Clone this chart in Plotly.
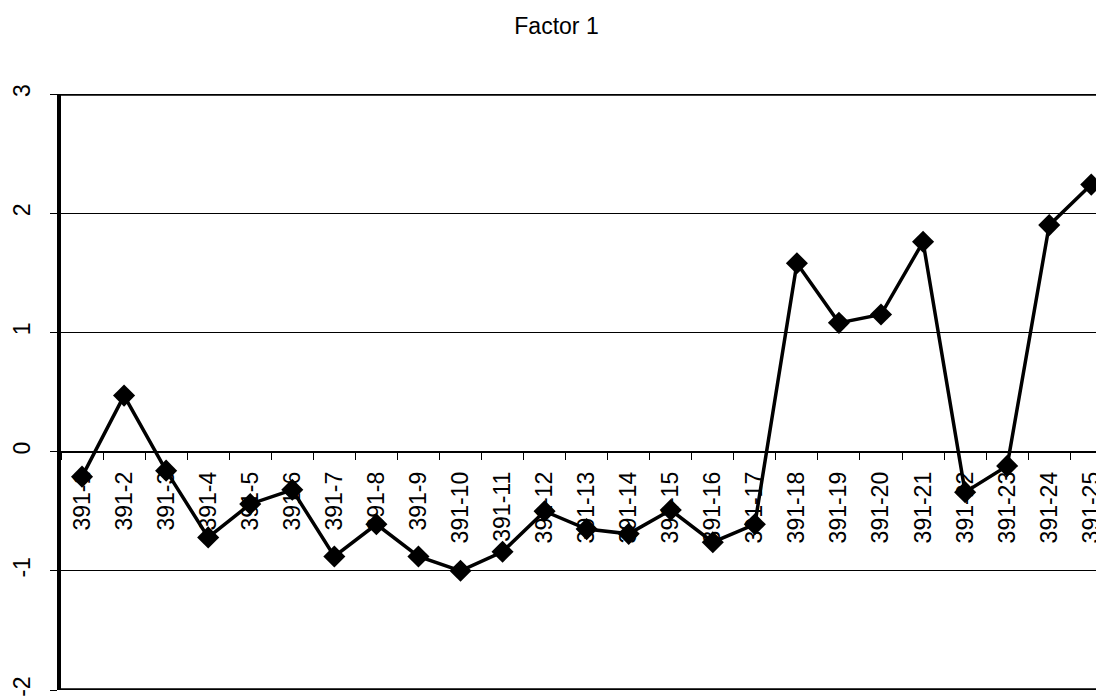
import plotly.graph_objects as go

categories = [f"391-{i}" for i in range(1, 26)]
factor1 = [-0.21, 0.47, -0.16, -0.72, -0.44, -0.32, -0.88, -0.61, -0.88, -1.00,
           -0.84, -0.50, -0.65, -0.69, -0.49, -0.76, -0.61, 1.58, 1.08, 1.15,
           1.76, -0.34, -0.12, 1.90, 2.24]
y_ticks = [-2, -1, 0, 1, 2, 3]

FONT = "Liberation Sans, Arial, sans-serif"
# the page body has an 8px margin, so the figure is laid out 8px smaller
W, H = 1096, 692

fig = go.Figure()
fig.add_trace(go.Scatter(
    x=categories, y=factor1, mode="lines+markers",
    line=dict(color="black", width=3.5),
    marker=dict(symbol="diamond", size=17, color="black"),
    cliponaxis=False, showlegend=False,
))

fig.update_layout(
    width=W, height=H,
    margin=dict(l=53, r=0, t=86, b=10),
    paper_bgcolor="white", plot_bgcolor="white",
    font=dict(family=FONT, size=23, color="black"),
    title=dict(text="Factor 1", x=548.5 / W, xref="container", xanchor="center",
               y=1 - 18 / H, yref="container", yanchor="middle",
               font=dict(family=FONT, size=23, color="black")),
    xaxis=dict(
        type="category", range=[-0.5, 24.16],
        anchor="free", position=0.4,
        showline=True, linecolor="black", linewidth=1,
        ticks="outside", tickson="boundaries", ticklen=7, tickwidth=1, tickcolor="black",
        tickangle=-90, tickfont=dict(family=FONT, size=23, color="black"),
        ticklabelstandoff=10,
        showgrid=False, zeroline=False, layer="below traces",
    ),
    yaxis=dict(
        range=[-2, 3], tickvals=y_ticks, ticktext=[str(v) for v in y_ticks],
        showline=True, linecolor="black", linewidth=4,
        ticks="outside", ticklen=7, tickwidth=1, tickcolor="black",
        tickangle=-90, tickfont=dict(family=FONT, size=23, color="black"),
        showgrid=True, gridcolor="black", gridwidth=1,
        zeroline=False, layer="below traces", ticklabelstandoff=11,
    ),
    shapes=[
        dict(type="line", xref="paper", yref="y", x0=0, x1=1, y0=3, y1=3,
             line=dict(color="black", width=3.5), layer="below"),
        dict(type="line", xref="paper", yref="y", x0=0, x1=1, y0=-2, y1=-2,
             line=dict(color="black", width=3.5), layer="below"),
    ],
)

fig.write_html("out.html")
